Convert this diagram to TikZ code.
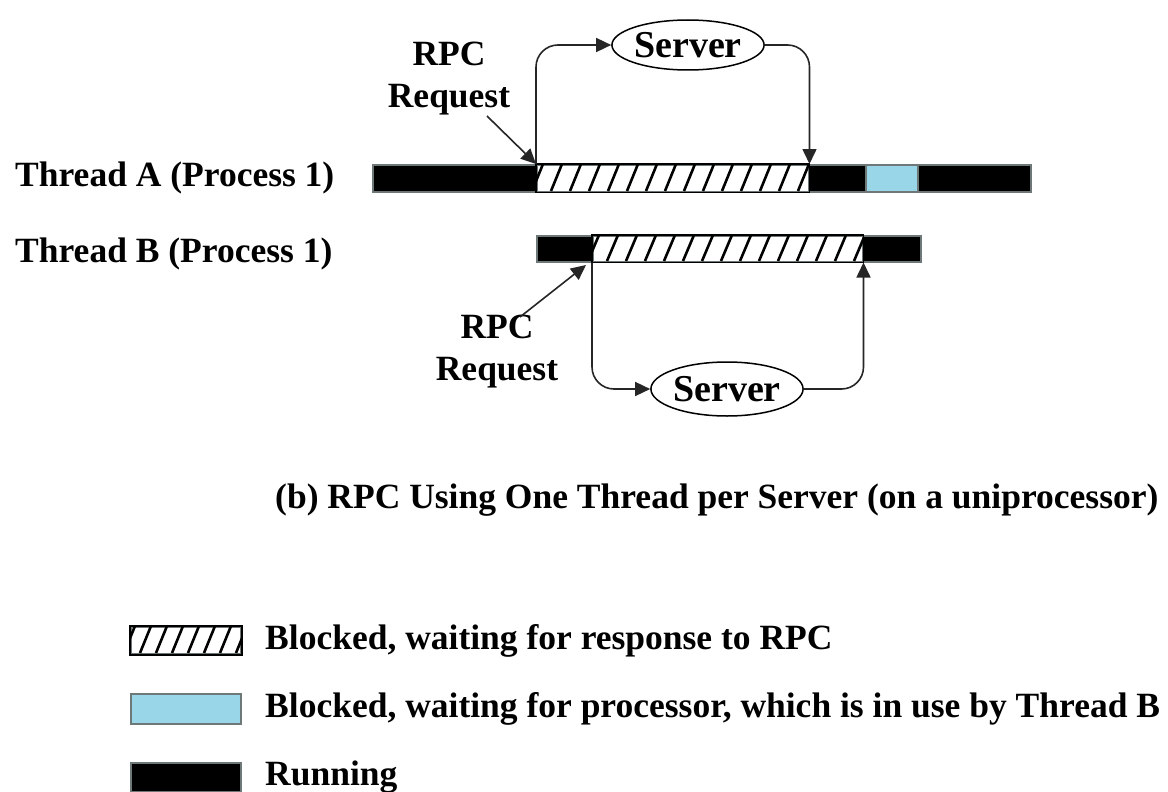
\documentclass[tikz,border=0pt]{standalone}
\usepackage{fontspec}
\setmainfont{Liberation Serif}
\usetikzlibrary{shapes.geometric,arrows.meta}
\definecolor{waitblue}{RGB}{152,214,232}
\definecolor{edgegray}{RGB}{110,120,120}
\begin{document}
\begin{tikzpicture}[x=1pt,y=-1pt,
  lbl/.style={font=\fontsize{35.5}{42}\selectfont\bfseries, inner sep=0pt},
  seg/.style={rectangle, draw=edgegray, line width=1.5pt, inner sep=0pt, anchor=north west, minimum height=27pt},
  run/.style={seg, fill=black},
  wait/.style={seg, fill=waitblue},
  hatchbox/.style={seg, fill=white},
  server/.style={ellipse, draw=black, line width=1.5pt, inner sep=0pt, font=\fontsize{38}{40}\selectfont\bfseries},
  conn/.style={line width=1.6pt, draw=black!85, -{Triangle[length=15pt,width=14pt]}},
  stripe/.style={line width=2.6pt, black}
]
\useasboundingbox (0,0) rectangle (1168,792);
\fill[white] (0,0) rectangle (1168,792);

% Thread labels
\node[lbl, anchor=west] (ta) at (15,178) {Thread A (Process 1)};
\node[lbl, anchor=west] (tb) at (15,254) {Thread B (Process 1)};

% Thread A bar
\node[run, minimum width=164pt] (a1) at (372,164) {};
\node[hatchbox, minimum width=272pt] (a2) at (536,164) {};
\node[run, minimum width=57pt] (a3) at (808,164) {};
\node[wait, minimum width=52pt] (a4) at (865,164) {};
\node[run, minimum width=113pt] (a5) at (917,164) {};
\begin{scope}
  \clip (a2.north west) rectangle (a2.south east);
  \foreach \x in {532,551,...,820} \draw[stripe] (\x,191) -- ++(11,-27);
\end{scope}
\draw[black, line width=1.2pt] (a2.north west) rectangle (a2.south east);

% Thread B bar
\node[run, minimum width=56pt, minimum height=26pt] (b1) at (536,235) {};
\node[hatchbox, minimum width=270pt, minimum height=26pt] (b2) at (592,235) {};
\node[run, minimum width=58pt, minimum height=26pt] (b3) at (862,235) {};
\begin{scope}
  \clip (b2.north west) rectangle (b2.south east);
  \foreach \x in {588,607,...,870} \draw[stripe] (\x,261) -- ++(11,-26);
\end{scope}
\draw[black, line width=1.2pt] (b2.north west) rectangle (b2.south east);

% Servers
\node[server, minimum width=148pt, minimum height=50pt] (s1) at (688,45) {Server};
\node[server, minimum width=125pt, minimum height=54pt] (s2) at (727,389) {Server};

% Connectors A
\draw[conn, rounded corners=22pt] (a2.north west) |- (s1.west);
\draw[conn, rounded corners=22pt] (s1.east) -| (a2.north east);
% Connectors B
\draw[conn, rounded corners=22pt] (b2.south west) |- (s2.west);
\draw[conn, rounded corners=22pt] (s2.east) -| (b2.south east);

% RPC request labels
\node[lbl, align=center] (r1) at (449,79) {RPC\\Request};
\coordinate (r1t) at (487,116);
\draw[conn] (r1t) -- (a2.north west);
\node[lbl, align=center] (r2) at (497,352) {RPC\\Request};
\coordinate (r2t) at (520,317);
\coordinate (b2hit) at (586,265);
\draw[conn] (r2t) -- (b2hit);

% Caption
\node[lbl, anchor=west] (cap) at (275,500) {(b) RPC Using One Thread per Server (on a uniprocessor)};

% Legend
\node[hatchbox, minimum width=110pt] (lh) at (130,626) {};
\begin{scope}
  \clip (lh.north west) rectangle (lh.south east);
  \foreach \x in {124,140,...,250} \draw[stripe] (\x,653) -- ++(11,-27);
\end{scope}
\draw[black, line width=2pt] (lh.north west) rectangle (lh.south east);
\node[lbl, anchor=west] (lht) at (265,641) {Blocked, waiting for response to RPC};

\node[wait, minimum width=110pt, minimum height=30pt] (lw) at (130,693) {};
\node[lbl, anchor=west] (lwt) at (265,709) {Blocked, waiting for processor, which is in use by Thread B};

\node[run, minimum width=110pt, minimum height=29pt] (lr) at (130,762) {};
\node[lbl, anchor=west] (lrt) at (265,777) {Running};
\end{tikzpicture}
\end{document}
